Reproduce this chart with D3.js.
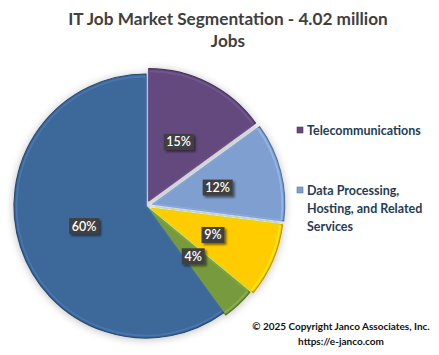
<!DOCTYPE html>
<html><head><meta charset="utf-8">
<script src="https://cdn.jsdelivr.net/npm/d3@7"></script>
<style>
html,body{margin:0;padding:0;background:#fff;}
svg{display:block;}
</style></head>
<body>
<svg id="chart" width="439" height="355"></svg>
<script>
const categories = ["Telecommunications", "Data Processing, Hosting, and Related Services", "Software Publishers", "Internet Publishing", "Computer Systems Design"];
const values = [15, 12, 9, 4, 60];
const labels = ["15%", "12%", "9%", "4%", "60%"];
const colors = ["#634a7e", "#7e9fcf", "#ffcc00", "#779a3e", "#3d679a"];
const explode = [6, 7, 6, 3, 0];
const legendItems = [
  {cat: 0, lines: ["Telecommunications"]},
  {cat: 1, lines: ["Data Processing,", "Hosting, and Related", "Services"]}
];
const titleLines = ["IT Job Market Segmentation - 4.02 million", "Jobs"];
const footerLines = ["\u00a9 2025 Copyright Janco Associates, Inc.", "https://e-janco.com"];

const svg = d3.select("#chart");
const cx = 146, cy = 206, R = 132;

const defs = svg.append("defs");
const sh = defs.append("filter").attr("id","shadow").attr("x","-20%").attr("y","-20%").attr("width","140%").attr("height","140%");
sh.append("feGaussianBlur").attr("in","SourceAlpha").attr("stdDeviation",4);
sh.append("feOffset").attr("dx",0).attr("dy",1).attr("result","b");
sh.append("feComponentTransfer").append("feFuncA").attr("type","linear").attr("slope",0.25);
const m = sh.append("feMerge"); m.append("feMergeNode"); m.append("feMergeNode").attr("in","SourceGraphic");

const lsh = defs.append("filter").attr("id","lshadow").attr("x","-30%").attr("y","-30%").attr("width","160%").attr("height","160%");
lsh.append("feGaussianBlur").attr("in","SourceAlpha").attr("stdDeviation",1.2);
lsh.append("feOffset").attr("dx",1.5).attr("dy",1.5);
lsh.append("feComponentTransfer").append("feFuncA").attr("type","linear").attr("slope",0.5);
const m2 = lsh.append("feMerge"); m2.append("feMergeNode"); m2.append("feMergeNode").attr("in","SourceGraphic");

// title
svg.append("g").selectAll("text").data(titleLines).join("text")
  .attr("x", 228).attr("y", (d,i)=>25 + i*22)
  .attr("text-anchor","middle")
  .attr("font-family","Lato, 'Open Sans', sans-serif")
  .attr("font-weight","bold").attr("font-size",17.2)
  .attr("fill","#404040").text(d=>d);

const pie = d3.pie().sort(null).value(d=>d).startAngle(0).endAngle(2*Math.PI);
const arcs = pie(values);
const arc = d3.arc().innerRadius(0).outerRadius(R);
const arcInner = d3.arc().innerRadius(0).outerRadius(R-2.5);

const g = svg.append("g").attr("transform",`translate(${cx},${cy})`).attr("filter","url(#shadow)");
const slices = g.selectAll("g.slice").data(arcs).join("g").attr("class","slice")
  .attr("transform",(d,i)=>{
    const a=(d.startAngle+d.endAngle)/2;
    return `translate(${Math.sin(a)*explode[i]},${-Math.cos(a)*explode[i]})`;
  });
slices.append("path").attr("d",arc)
  .attr("fill",(d,i)=>colors[i])
  .attr("stroke",(d,i)=>d3.color(colors[i]).darker(0.9))
  .attr("stroke-width",1.2).attr("stroke-linejoin","round");
slices.append("path").attr("d",arcInner)
  .attr("fill","none")
  .attr("stroke",(d,i)=>d3.color(colors[i]).brighter(0.6))
  .attr("stroke-opacity",0.6)
  .attr("stroke-width",1.8).attr("stroke-linejoin","round");

// labels
const lg = svg.append("g").attr("transform",`translate(${cx},${cy})`);
const lab = lg.selectAll("g.lab").data(arcs).join("g").attr("class","lab")
  .attr("transform",(d,i)=>{
    const a=(d.startAngle+d.endAngle)/2;
    const r = [66,67,67,66,65][i] + explode[i];
    return `translate(${Math.sin(a)*r},${-Math.cos(a)*r})`;
  });
lab.append("rect")
  .attr("x",(d,i)=>-(labels[i].length*7+9)/2).attr("y",-8)
  .attr("width",(d,i)=>labels[i].length*7+9).attr("height",16)
  .attr("fill","#404040").attr("filter","url(#lshadow)");
lab.append("text").attr("text-anchor","middle").attr("dy","0.36em")
  .attr("font-family","Lato, 'Open Sans', sans-serif").attr("font-size",12.5)
  .attr("font-weight","600")
  .attr("fill","#fff").text((d,i)=>labels[i]);

// legend
const leg = svg.append("g");
const legY = [131, 191];
legendItems.forEach((it,k)=>{
  leg.append("rect").attr("x",297).attr("y",legY[k]-4).attr("width",6).attr("height",6)
    .attr("fill",colors[it.cat]).attr("stroke",d3.color(colors[it.cat]).darker(0.8)).attr("stroke-width",0.6);
  leg.append("g").selectAll("text").data(it.lines).join("text")
    .attr("x",307).attr("y",(d,i)=>legY[k]+4+i*18)
    .attr("font-family","Lato, 'Open Sans', sans-serif").attr("font-size",12.5)
    .attr("font-weight","bold")
    .attr("fill","#263c54").text(d=>d);
});

// footer
svg.append("g").selectAll("text").data(footerLines).join("text")
  .attr("x",341).attr("y",(d,i)=>330+i*15)
  .attr("text-anchor","middle")
  .attr("font-family","Lato, 'Open Sans', sans-serif")
  .attr("font-weight","bold").attr("font-size",10)
  .attr("fill","#111").text(d=>d);
</script>
</body></html>
